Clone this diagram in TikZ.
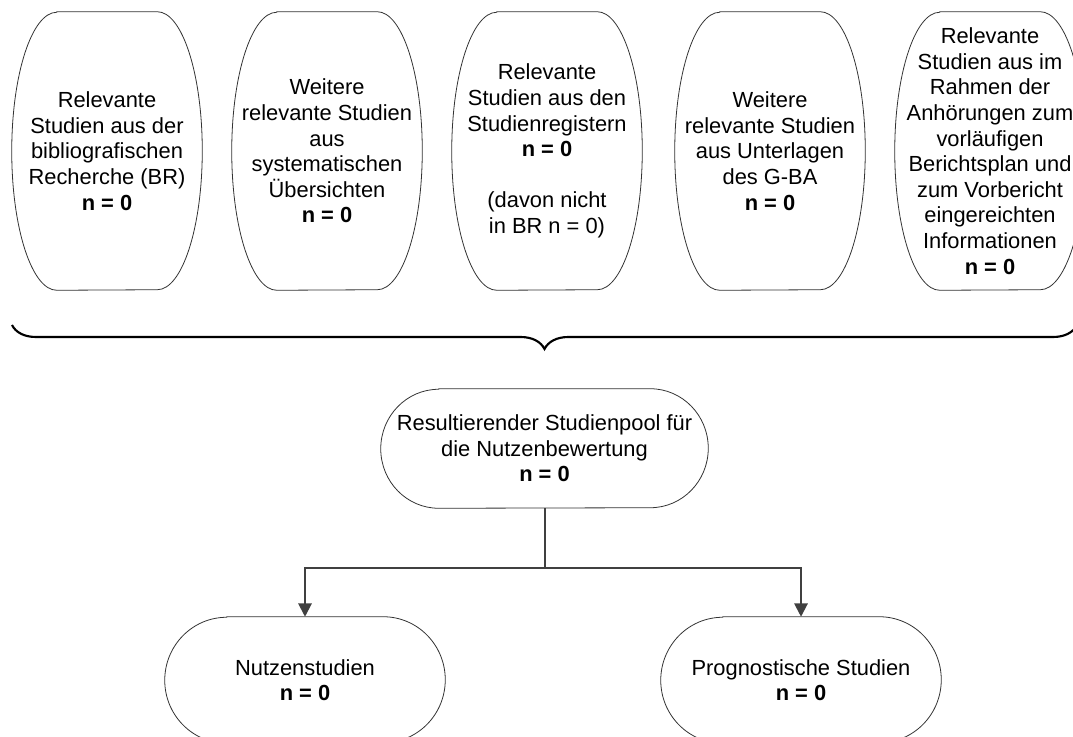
\documentclass[tikz,border=0pt]{standalone}
\usepackage{fontspec}
\setmainfont{Liberation Sans}
\usetikzlibrary{arrows.meta,decorations.pathreplacing}

\definecolor{linegray}{RGB}{64,64,64}

\tikzset{
  flowtext/.style={inner sep=0.75pt, align=center, font=\fontsize{16.4}{19.2}\selectfont},
  tallbox/.style={flowtext, minimum width=142.5pt, minimum height=208.5pt},
  poolbox/.style={flowtext, minimum width=245.25pt, minimum height=89.25pt},
  lowbox/.style={flowtext, minimum width=210pt, minimum height=94.5pt},
  outline/.style={draw=black!80, line width=0.6pt},
  flow/.style={draw=linegray, line width=1.5pt, -{Triangle[width=10pt,length=10pt]}},
  bigbrace/.style={draw, line width=1.6pt, decorate, decoration={brace, mirror, amplitude=18pt}},
}

% terminator outline round a node: name, x radius, y radius
\newcommand{\termshape}[3]{%
  \draw[outline] ([xshift=#2]#1.north west) -- ([xshift=-#2]#1.north east)
    arc[start angle=-90, end angle=90, x radius=#2, y radius=#3]
    -- ([xshift=#2]#1.south west)
    arc[start angle=90, end angle=270, x radius=#2, y radius=#3] -- cycle;}

\begin{document}
\begin{tikzpicture}[x=0.75pt,y=0.75pt,yscale=-1,xscale=1]
\useasboundingbox (0,0) rectangle (1073,737);
\clip (0,0) rectangle (1073,737);

% Text Node
\node[tallbox] (r1) at (107,151) {Relevante\\Studien aus der\\bibliografischen\\Recherche (BR)\\\textbf{n = 0}};
% Text Node
\node[tallbox] (r2) at (327,151) {Weitere\\relevante Studien\\aus\\systematischen\\Übersichten\\\textbf{n = 0}};
% Text Node
\node[tallbox] (r3) at (547,151) {Relevante\\Studien aus den\\Studienregistern\\\textbf{n = 0}\\[19pt](davon nicht\\in BR n = 0)};
% Text Node
\node[tallbox] (r4) at (770,151) {Weitere\\relevante Studien\\aus Unterlagen\\des G-BA\\\textbf{n = 0}};
% Text Node
\node[tallbox] (r5) at (990,151) {Relevante\\Studien aus im\\Rahmen der\\Anhörungen zum\\vorläufigen\\Berichtsplan und\\zum Vorbericht\\eingereichten\\Informationen\\\textbf{n = 0}};

% Text Node
\node[poolbox] (pool) at (544.5,448.5) {Resultierender Studienpool für\\die Nutzenbewertung\\\textbf{n = 0}};
% Text Node
\node[lowbox] (nutzen) at (305,680) {Nutzenstudien\\\textbf{n = 0}};
% Text Node
\node[lowbox] (progn) at (801,680) {Prognostische Studien\\\textbf{n = 0}};

%Shapes
\termshape{r1}{33.75pt}{104.25pt}
\termshape{r2}{33.75pt}{104.25pt}
\termshape{r3}{33.75pt}{104.25pt}
\termshape{r4}{33.75pt}{104.25pt}
\termshape{r5}{33.75pt}{104.25pt}
\termshape{pool}{43.5pt}{44.625pt}
\termshape{nutzen}{46.5pt}{47.25pt}
\termshape{progn}{46.5pt}{47.25pt}

%Brace
\coordinate (braceL) at (12,325);
\coordinate (braceR) at (1077,325);
\draw[bigbrace] (braceL) -- (braceR);

%Connectors
\draw[flow] (pool.south) -- ++(0,60) -| (nutzen.north);
\draw[flow] (pool.south) -- ++(0,60) -| (progn.north);

\end{tikzpicture}
\end{document}
